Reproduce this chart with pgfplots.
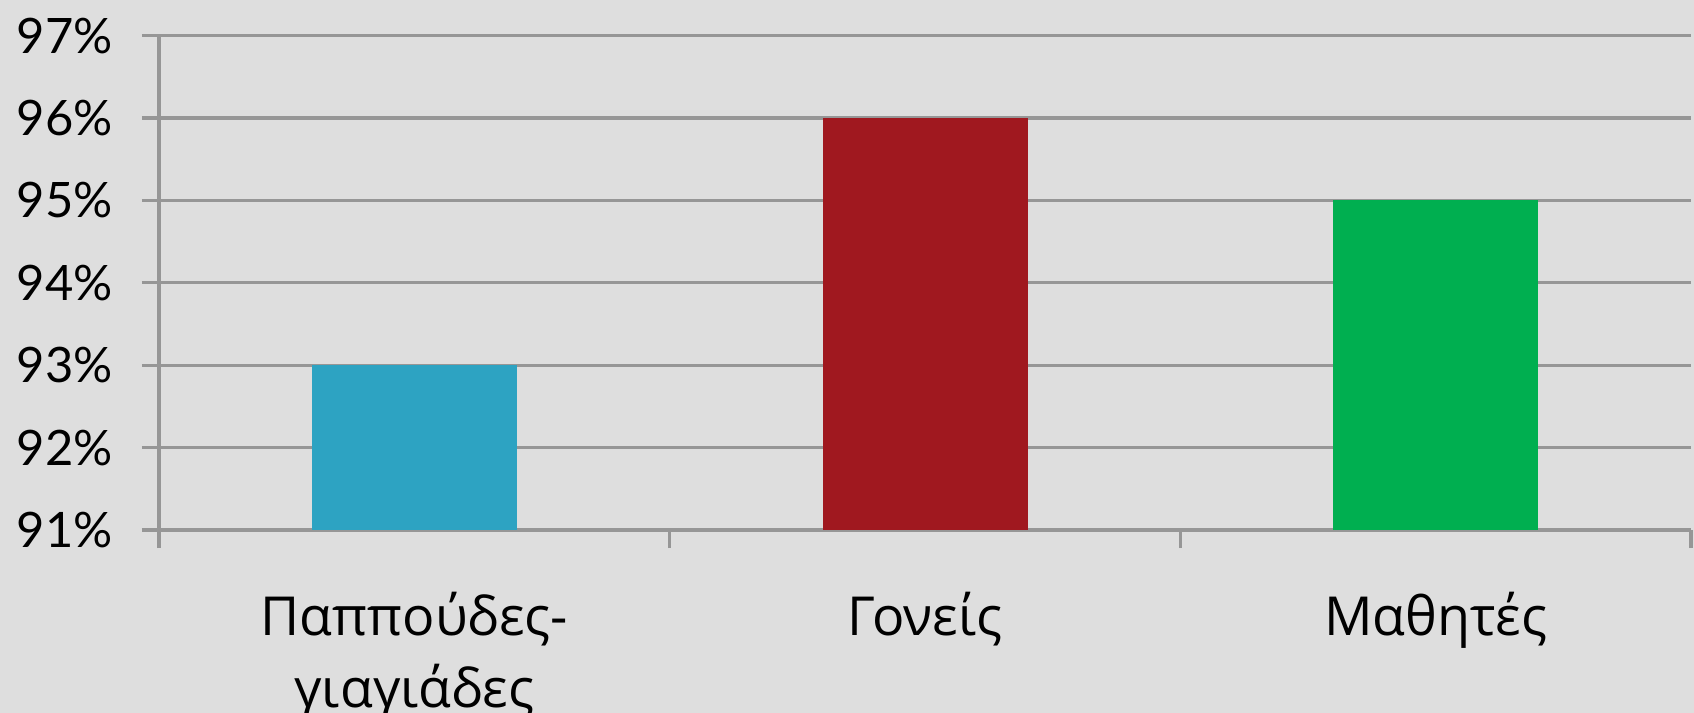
\documentclass[border=0pt]{standalone}
\usepackage{fontspec}
\setmainfont{Lato}
\newfontfamily\catfont{Open Sans}
\usepackage{pgfplots}
\pgfplotsset{compat=1.18}
\definecolor{bg}{RGB}{222,222,222}
\definecolor{gridgray}{RGB}{150,150,150}
\definecolor{cteal}{RGB}{45,163,194}
\definecolor{cred}{RGB}{160,24,31}
\definecolor{cgreen}{RGB}{0,175,80}
\begin{document}
\begin{tikzpicture}
\fill[bg] (0,0) rectangle (16.94cm,7.13cm);
\useasboundingbox (0,0) rectangle (16.94cm,7.13cm);
\begin{axis}[
    at={(1.59cm,1.83cm)}, anchor=south west,
    scale only axis,
    width=15.32cm, height=4.944cm,
    ymin=91, ymax=97,
    ytick={91,92,...,97},
    yticklabel={\pgfmathprintnumber{\tick}\%},
    /pgf/number format/assume math mode=true,
    xmin=-0.5, xmax=2.5,
    xtick={0,1,2},
    xticklabels={{Παππούδες-\\γιαγιάδες},Γονείς,Μαθητές},
    major x tick style={draw=none},
    minor xtick={-0.5,0.5,1.5,2.5},
    minor tick length=0.18cm,
    major tick length=0.17cm,
    tick align=outside,
    axis x line*=bottom, axis y line*=left,
    axis line style={gridgray, line width=0.9pt},
    every tick/.style={gridgray, line width=0.9pt},
    ymajorgrids,
    major grid style={gridgray, line width=0.9pt},
    yticklabel style={font=\fontsize{13.9}{16}\selectfont, text=black, xshift=-0.17cm},
    xticklabel style={font=\catfont\fontsize{15.3}{20.5}\selectfont, align=center, anchor=north, yshift=-0.33cm},
    ybar, bar width=2.05cm,
    clip=false,
]
\addplot[fill=cteal, draw=none, bar shift=0pt] coordinates {(0,93)};
\addplot[fill=cred, draw=none, bar shift=0pt] coordinates {(1,96)};
\addplot[fill=cgreen, draw=none, bar shift=0pt] coordinates {(2,95)};
\end{axis}
\end{tikzpicture}
\end{document}
